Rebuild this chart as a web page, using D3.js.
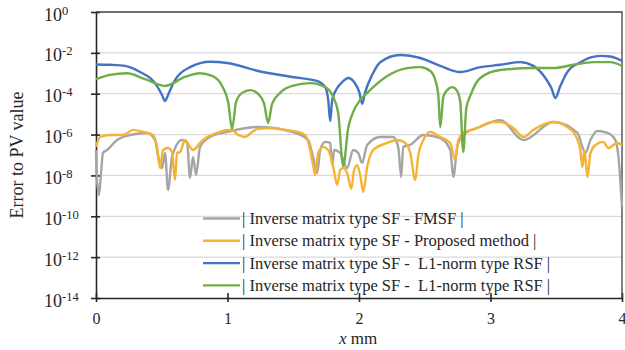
<!DOCTYPE html>
<html>
<head>
<meta charset="utf-8">
<script src="https://cdn.jsdelivr.net/npm/d3@7"></script>
<style>
  body { margin: 0; background: #fff; }
  svg text { font-family: "Liberation Serif", "Times New Roman", serif; fill: #262626; }
</style>
</head>
<body>
<script>
// x positions (mm) and errors, one pair of arrays per series
const grayX = [0, 0.008, 0.023, 0.038, 0.053, 0.084, 0.16, 0.259, 0.388, 0.449, 0.472, 0.502, 0.525, 0.548, 0.578, 0.654, 0.693, 0.715, 0.738, 0.761, 0.791, 0.868, 0.997, 1.233, 1.492, 1.613, 1.651, 1.682, 1.705, 1.743, 1.781, 1.796, 1.811, 1.857, 1.91, 1.956, 1.994, 2.024, 2.062, 2.161, 2.26, 2.298, 2.321, 2.336, 2.39, 2.489, 2.618, 2.694, 2.717, 2.747, 2.793, 2.9, 3.075, 3.25, 3.478, 3.661, 3.722, 3.76, 3.813, 3.889, 3.95, 3.973, 4.0];
const grayErr = [1.75e-7, 6.0e-9, 1.1e-9, 1.3e-8, 1.25e-7, 1.75e-7, 5.4e-7, 9.5e-7, 1.2e-6, 5.4e-7, 8.9e-8, 2.3e-8, 1.25e-7, 1.95e-9, 8.0e-8, 5.4e-7, 3.9e-7, 7.5e-9, 8.0e-8, 1.05e-8, 2.5e-7, 7.6e-7, 1.35e-6, 2.35e-6, 1.35e-6, 5.4e-7, 8.0e-8, 1.3e-8, 1.75e-7, 4.4e-7, 3.9e-7, 3.2e-8, 1.75e-7, 1.25e-7, 2.3e-8, 1.75e-7, 1.25e-7, 4.1e-8, 3.1e-7, 7.6e-7, 7.6e-7, 2.5e-7, 8.4e-9, 2.5e-7, 3.1e-7, 9.5e-7, 6.8e-7, 1.75e-7, 8.4e-9, 2.5e-7, 9.5e-7, 2.1e-6, 5.1e-6, 5.4e-7, 4.1e-6, 1.2e-6, 1.25e-7, 5.4e-7, 1.5e-6, 1.2e-6, 5.4e-7, 8.0e-8, 2.8e-10];

const orangeX = [0, 0.03, 0.107, 0.205, 0.282, 0.358, 0.434, 0.464, 0.487, 0.51, 0.548, 0.578, 0.601, 0.616, 0.639, 0.677, 0.715, 0.738, 0.791, 0.845, 0.921, 0.997, 1.035, 1.081, 1.134, 1.187, 1.233, 1.339, 1.438, 1.537, 1.591, 1.629, 1.651, 1.667, 1.689, 1.728, 1.766, 1.804, 1.834, 1.857, 1.88, 1.91, 1.941, 1.963, 1.986, 2.009, 2.032, 2.062, 2.108, 2.215, 2.291, 2.352, 2.39, 2.428, 2.451, 2.489, 2.542, 2.618, 2.694, 2.732, 2.755, 2.793, 2.9, 3.021, 3.075, 3.174, 3.25, 3.326, 3.478, 3.584, 3.645, 3.683, 3.699, 3.714, 3.737, 3.76, 3.798, 3.858, 3.896, 3.965, 4.0];
const orangeErr = [2.5e-7, 7.6e-7, 9.5e-7, 9.5e-7, 1.7e-6, 1.35e-6, 9.5e-7, 2.5e-7, 2.3e-8, 1.75e-7, 2.2e-7, 1.4e-7, 6.0e-9, 1.25e-7, 1.4e-7, 5.4e-7, 2.5e-7, 1.75e-7, 3.9e-7, 7.6e-7, 1.2e-6, 1.7e-6, 1.7e-6, 9.5e-7, 7.6e-7, 1.35e-6, 1.9e-6, 2.1e-6, 1.7e-6, 1.35e-6, 9.5e-7, 1.75e-7, 3.2e-8, 1.05e-8, 1.25e-7, 2.5e-7, 1.75e-7, 2.6e-8, 3.4e-9, 1.85e-8, 2.3e-8, 1.3e-8, 2.2e-9, 1.85e-8, 3.2e-8, 1.05e-8, 1.55e-9, 2.6e-8, 1.75e-7, 3.9e-7, 5.4e-7, 3.9e-7, 1.25e-7, 6.0e-9, 1.0e-7, 5.4e-7, 1.35e-6, 7.6e-7, 3.9e-7, 5.7e-8, 5.4e-7, 1.2e-6, 2.1e-6, 4.1e-6, 4.1e-6, 2.1e-6, 7.6e-7, 1.7e-6, 4.1e-6, 2.35e-6, 9.5e-7, 1.75e-7, 2.6e-8, 1.75e-7, 8.4e-9, 1.25e-7, 3.1e-7, 4.4e-7, 2.2e-7, 3.9e-7, 3.1e-7];

const blueX = [0, 0.107, 0.221, 0.335, 0.449, 0.502, 0.525, 0.548, 0.601, 0.715, 0.868, 0.997, 1.233, 1.492, 1.689, 1.743, 1.766, 1.781, 1.796, 1.834, 1.872, 1.918, 1.963, 2.002, 2.024, 2.047, 2.1, 2.161, 2.314, 2.466, 2.618, 2.77, 2.922, 3.074, 3.227, 3.326, 3.417, 3.463, 3.493, 3.531, 3.584, 3.683, 3.836, 3.912, 4.0];
const blueErr = [2.7e-3, 2.6e-3, 2.3e-3, 1.15e-3, 3.3e-4, 8.7e-5, 4.4e-5, 8.7e-5, 4.7e-4, 2.0e-3, 3.7e-3, 3.2e-3, 1.3e-3, 6.6e-4, 4.0e-4, 2.1e-4, 4.9e-5, 4.6e-6, 4.9e-5, 1.9e-4, 3.7e-4, 5.9e-4, 3.7e-4, 1.2e-4, 3.2e-5, 1.2e-4, 8.3e-4, 3.5e-3, 7.9e-3, 5.6e-3, 2.3e-3, 1.15e-3, 2.0e-3, 2.6e-3, 3.5e-3, 2.3e-3, 5.9e-4, 1.9e-4, 6.2e-5, 2.4e-4, 1.15e-3, 3.5e-3, 7.1e-3, 6.6e-3, 4.0e-3];

const greenX = [0, 0.107, 0.236, 0.373, 0.525, 0.677, 0.791, 0.883, 0.959, 1.005, 1.035, 1.065, 1.111, 1.172, 1.233, 1.279, 1.309, 1.339, 1.4, 1.492, 1.629, 1.743, 1.804, 1.842, 1.88, 1.918, 1.956, 2.009, 2.062, 2.215, 2.367, 2.466, 2.542, 2.58, 2.603, 2.618, 2.641, 2.671, 2.709, 2.747, 2.77, 2.793, 2.816, 2.846, 2.922, 3.074, 3.326, 3.478, 3.63, 3.782, 3.912, 4.0];
const greenErr = [5.2e-4, 8.3e-4, 1.0e-3, 5.2e-4, 2.4e-4, 6.6e-4, 1.0e-3, 7.4e-4, 2.4e-4, 3.9e-5, 1.9e-6, 3.9e-5, 1.1e-4, 1.5e-4, 9.8e-5, 3.2e-5, 3.7e-6, 3.2e-5, 1.1e-4, 2.4e-4, 3.3e-4, 2.1e-4, 6.9e-5, 1.1e-5, 2.9e-8, 2.1e-6, 1.3e-5, 4.9e-5, 1.1e-4, 7.4e-4, 1.8e-3, 2.0e-3, 1.3e-3, 4.7e-4, 8.7e-5, 2.3e-6, 6.9e-5, 1.5e-4, 2.1e-4, 1.35e-4, 3.9e-5, 1.4e-7, 2.0e-5, 7.8e-5, 5.9e-4, 1.45e-3, 1.8e-3, 1.8e-3, 2.6e-3, 3.5e-3, 3.5e-3, 2.3e-3];

const seriesNames = [
    "| Inverse matrix type SF - FMSF |",
    "| Inverse matrix type SF - Proposed method |",
    "| Inverse matrix type SF -  L1-norm type RSF |",
    "| Inverse matrix type SF -  L1-norm type RSF |"
];
const seriesColors = ["#a5a5a5", "#f5b335", "#4472c4", "#70ad47"];
const xTicks = [0, 1, 2, 3, 4];
const yTickExps = [0, -2, -4, -6, -8, -10, -12, -14];

const serif = '"Liberation Serif", "Times New Roman", serif';
const width = 625, height = 350;
const margin = {top: 12, right: 3, bottom: 52, left: 96};

const svg = d3.select("body").append("svg")
    .attr("width", width)
    .attr("height", height);

const x = d3.scaleLinear().domain([0, 4]).range([margin.left, width - margin.right]);
const y = d3.scaleLog().domain([1e-14, 1]).range([height - margin.bottom, margin.top]);

// horizontal gridlines
svg.append("g")
    .selectAll("line")
    .data(yTickExps.slice(1, -1))
    .join("line")
    .attr("x1", x(0)).attr("x2", x(4))
    .attr("y1", d => y(Math.pow(10, d)))
    .attr("y2", d => y(Math.pow(10, d)))
    .attr("stroke", "#d9d9d9")
    .attr("stroke-width", 1.3);

// y axis, ticks cross the line
const yAxis = svg.append("g")
    .attr("transform", "translate(" + x(0) + ",0)")
    .call(d3.axisLeft(y)
        .tickValues(yTickExps.map(e => Math.pow(10, e)))
        .tickFormat("")
        .tickSize(5)
        .tickSizeOuter(0));
yAxis.select(".domain").attr("stroke", "#262626").attr("stroke-width", 1.6);
yAxis.selectAll(".tick line").attr("x1", 4).attr("stroke", "#262626").attr("stroke-width", 1.6);

yAxis.selectAll(".tick")
    .append("text")
    .attr("x", -34)
    .attr("y", 8)
    .attr("text-anchor", "end")
    .style("font-family", serif)
    .style("font-size", "18px")
    .text("10");
yAxis.selectAll(".tick")
    .append("text")
    .attr("x", -34)
    .attr("y", 2)
    .attr("text-anchor", "start")
    .style("font-family", serif)
    .style("font-size", "12.5px")
    .text((d, i) => yTickExps[i] === 0 ? "0" : String(yTickExps[i]));

// x axis
const xAxis = svg.append("g")
    .attr("transform", "translate(0," + y(1e-14) + ")")
    .call(d3.axisBottom(x)
        .tickValues(xTicks)
        .tickFormat(d3.format("d"))
        .tickSize(4)
        .tickSizeOuter(0)
        .tickPadding(11));
xAxis.select(".domain").attr("stroke", "#262626").attr("stroke-width", 1.6);
xAxis.selectAll(".tick line").attr("y1", -5).attr("stroke", "#262626").attr("stroke-width", 1.6);
xAxis.selectAll(".tick text")
    .style("font-size", "16px")
    .style("font-family", serif)
    .attr("fill", "#262626");

// top and right frame
svg.append("path")
    .attr("d", "M" + x(0) + "," + y(1) + "H" + x(4) + "V" + y(1e-14))
    .attr("fill", "none")
    .attr("stroke", "#404040")
    .attr("stroke-width", 1.3);

// series lines
const line = d3.line()
    .x(d => x(d[0]))
    .y(d => y(d[1]))
    .curve(d3.curveMonotoneX);

const series = [
    d3.zip(grayX, grayErr),
    d3.zip(orangeX, orangeErr),
    d3.zip(blueX, blueErr),
    d3.zip(greenX, greenErr)
];

svg.append("g")
    .selectAll("path")
    .data(series)
    .join("path")
    .attr("d", line)
    .attr("fill", "none")
    .attr("stroke", (d, i) => seriesColors[i])
    .attr("stroke-width", 2.4)
    .attr("stroke-linejoin", "round");

// legend
const legend = svg.append("g")
    .selectAll("g")
    .data(seriesNames)
    .join("g")
    .attr("transform", (d, i) => "translate(203," + (218.5 + i * 22.3) + ")");

legend.append("line")
    .attr("x1", 0).attr("x2", 37)
    .attr("stroke", (d, i) => seriesColors[i])
    .attr("stroke-width", 2.4);

legend.append("text")
    .attr("x", 39)
    .attr("y", 5.5)
    .style("font-family", serif)
    .style("font-size", "16.5px")
    .style("white-space", "pre")
    .text(d => d);

// axis titles
svg.append("text")
    .attr("transform", "translate(23,155) rotate(-90)")
    .attr("text-anchor", "middle")
    .style("font-family", serif)
    .style("font-size", "18px")
    .text("Error to PV value");

const xTitle = svg.append("text")
    .attr("x", 358)
    .attr("y", 344)
    .attr("text-anchor", "middle")
    .style("font-family", serif)
    .style("font-size", "17px");
xTitle.append("tspan").style("font-style", "italic").text("x");
xTitle.append("tspan").text(" mm");
</script>
</body>
</html>
